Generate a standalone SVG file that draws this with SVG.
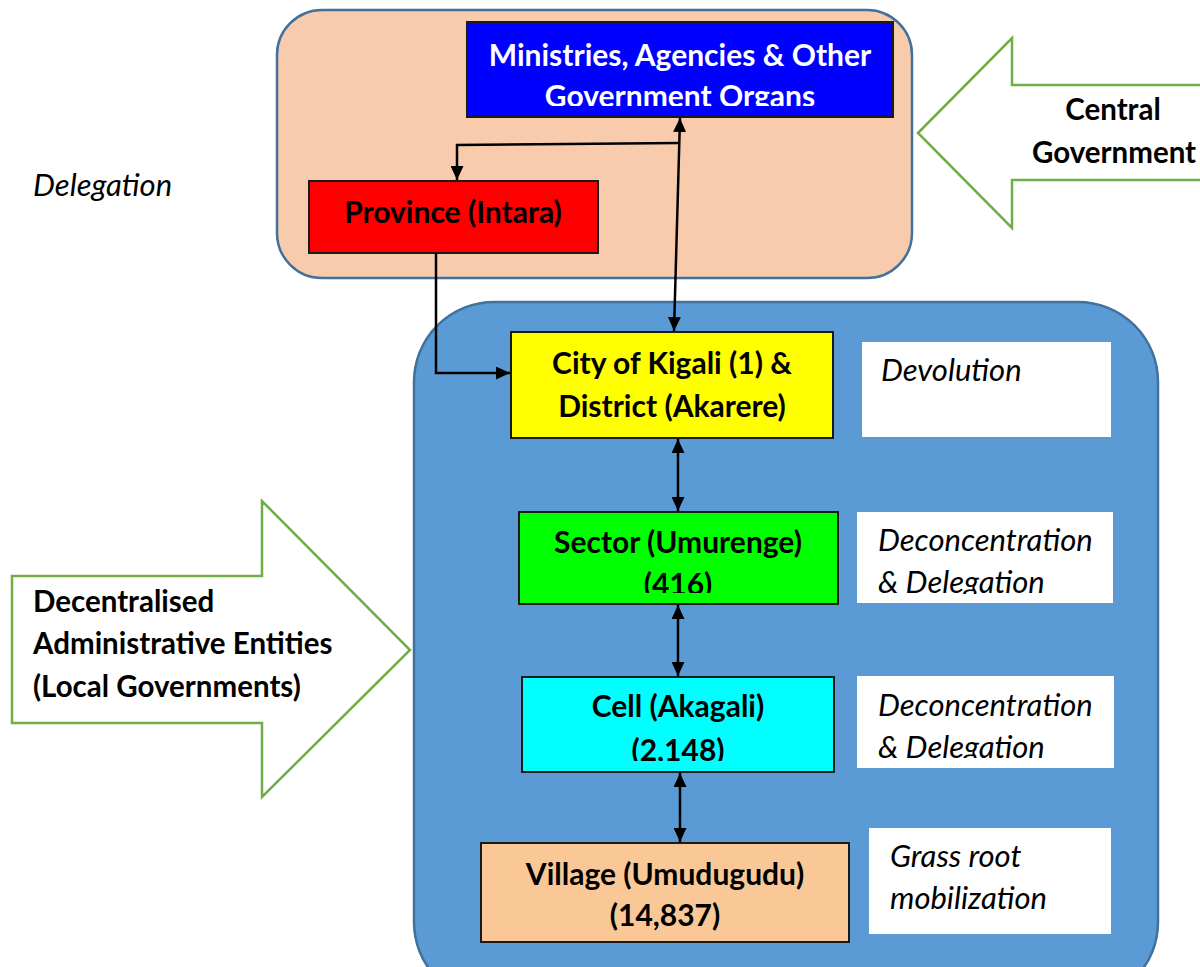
<svg xmlns="http://www.w3.org/2000/svg" width="1200" height="967" viewBox="0 0 1200 967">
<style>
.cont{stroke:#41719C;stroke-width:2.5}
.box{stroke:#1a1a1a;stroke-width:2}
.note{fill:#FFFFFF;stroke:none}
.b{font-family:Lato,"Liberation Sans",sans-serif;font-weight:bold;font-size:30px;fill:#000;text-anchor:middle}
.w{fill:#FFFFFF}
.i{font-family:Lato,"Liberation Sans",sans-serif;font-style:italic;font-size:31px;fill:#000}
.lb{font-family:Lato,"Liberation Sans",sans-serif;font-weight:bold;font-size:29.5px;fill:#000}
.bigarrow{fill:#FFFFFF;stroke:#70AD47;stroke-width:2.5}
.conn{stroke:#000;stroke-width:2.5;fill:none}
</style>
<defs>
<marker id="ah" viewBox="0 0 14 13" refX="14" refY="6.5" markerWidth="14" markerHeight="13" markerUnits="userSpaceOnUse" orient="auto-start-reverse">
<path d="M0,0 L14,6.5 L0,13 Z" fill="#000"/>
</marker>
<clipPath id="cMin"><rect x="467" y="22" width="426" height="84"/></clipPath>
<clipPath id="cSec"><rect x="519" y="512" width="319" height="81"/></clipPath>
<clipPath id="cCell"><rect x="522" y="677" width="312" height="84"/></clipPath>
<clipPath id="cN2"><rect x="857" y="512" width="256" height="82"/></clipPath>
<clipPath id="cN3"><rect x="857" y="676" width="257" height="82"/></clipPath>
</defs>

<g id="central-container"><rect class="cont" x="277" y="10" width="635" height="268" rx="45" fill="#F8CBAD"/></g>
<g id="local-container"><rect class="cont" x="414" y="302" width="744" height="700" rx="80" fill="#5B9BD5"/></g>

<g id="central-arrow">
<polygon class="bigarrow" points="918,133 1012,38 1012,85 1210,85 1210,180 1012,180 1012,228"/>
<text class="lb" x="1113" y="120" text-anchor="middle">Central</text>
<text class="lb" x="1032" y="163">Government</text>
</g>

<g id="local-arrow">
<polygon class="bigarrow" points="12,576 262,576 262,501 410,650 262,797 262,723 12,723"/>
<text class="lb" x="33" y="612">Decentralised</text>
<text class="lb" x="33" y="654">Administrative Entities</text>
<text class="lb" x="33" y="697">(Local Governments)</text>
</g>

<g id="delegation-label"><text class="i" x="33" y="196">Delegation</text></g>

<g id="ministries">
<rect class="box" x="467" y="22" width="426" height="95" fill="#0000FF"/>
<g clip-path="url(#cMin)">
<text class="b w" x="680" y="66">Ministries, Agencies &amp; Other</text>
<text class="b w" x="680" y="107">Government Organs</text>
</g>
</g>

<g id="province">
<rect class="box" x="309" y="181" width="289" height="72" fill="#FF0000"/>
<text class="b" x="453" y="223">Province (Intara)</text>
</g>

<g id="city">
<rect class="box" x="511" y="332" width="322" height="106" fill="#FFFF00"/>
<text class="b" x="672" y="374">City of Kigali (1) &amp;</text>
<text class="b" x="672" y="417">District (Akarere)</text>
</g>
<g id="note-devolution">
<rect class="note" x="862" y="342" width="249" height="95"/>
<text class="i" x="881" y="381">Devolution</text>
</g>

<g id="sector">
<rect class="box" x="519" y="512" width="319" height="92" fill="#00FF00"/>
<g clip-path="url(#cSec)">
<text class="b" x="678" y="553">Sector (Umurenge)</text>
<text class="b" x="678" y="595">(416)</text>
</g>
</g>
<g id="note-sector">
<rect class="note" x="857" y="512" width="256" height="91"/>
<g clip-path="url(#cN2)">
<text class="i" x="878" y="551">Deconcentration</text>
<text class="i" x="878" y="593">&amp; Delegation</text>
</g>
</g>

<g id="cell">
<rect class="box" x="522" y="677" width="312" height="95" fill="#00FFFF"/>
<g clip-path="url(#cCell)">
<text class="b" x="678" y="717">Cell (Akagali)</text>
<text class="b" x="678" y="761">(2,148)</text>
</g>
</g>
<g id="note-cell">
<rect class="note" x="857" y="676" width="257" height="92"/>
<g clip-path="url(#cN3)">
<text class="i" x="878" y="716">Deconcentration</text>
<text class="i" x="878" y="758">&amp; Delegation</text>
</g>
</g>

<g id="village">
<rect class="box" x="481" y="843" width="368" height="99" fill="#FAC896"/>
<text class="b" x="665" y="885">Village (Umudugudu)</text>
<text class="b" x="665" y="926">(14,837)</text>
</g>
<g id="note-village">
<rect class="note" x="869" y="828" width="242" height="106"/>
<text class="i" x="890" y="867">Grass root</text>
<text class="i" x="890" y="909">mobilization</text>
</g>

<g id="connectors">
<line class="conn" x1="674" y1="331" x2="680" y2="118" marker-start="url(#ah)" marker-end="url(#ah)"/>
<polyline class="conn" points="679,143 457,145 457,180" marker-end="url(#ah)"/>
<polyline class="conn" points="436,253 436,373 510,373" marker-end="url(#ah)"/>
<line class="conn" x1="678" y1="439" x2="678" y2="511" marker-start="url(#ah)" marker-end="url(#ah)"/>
<line class="conn" x1="678" y1="605" x2="678" y2="676" marker-start="url(#ah)" marker-end="url(#ah)"/>
<line class="conn" x1="680" y1="773" x2="680" y2="842" marker-start="url(#ah)" marker-end="url(#ah)"/>
</g>
</svg>
